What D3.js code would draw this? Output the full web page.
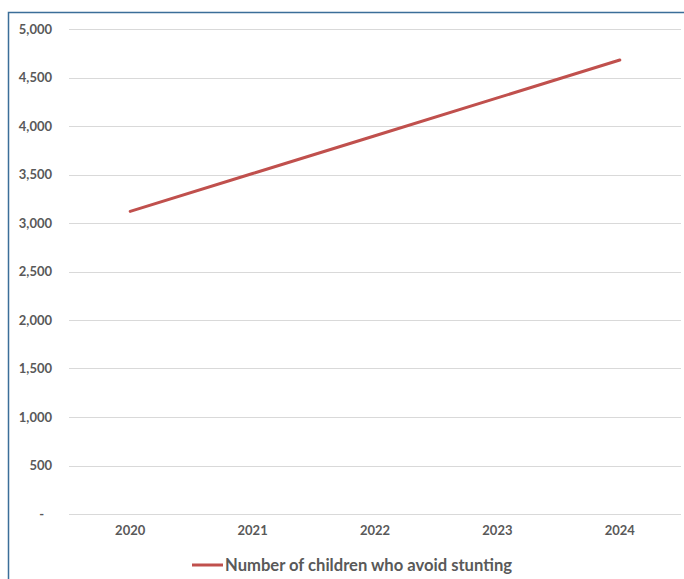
<!DOCTYPE html>
<html><head><meta charset="utf-8">
<script src="https://cdn.jsdelivr.net/npm/d3@7"></script>
<style>body{margin:0;background:#fff;} svg{display:block;}</style>
</head><body>
<script>
const years = ["2020","2021","2022","2023","2024"];
const children = [3120, 3510, 3900, 4290, 4680];
const yTicks = [0,500,1000,1500,2000,2500,3000,3500,4000,4500,5000];
const seriesName = "Number of children who avoid stunting";

const W=684,H=579;
const svg=d3.select("body").append("svg").attr("width",W).attr("height",H);
svg.append("rect").attr("width",W).attr("height",H).attr("fill","#fff");
// frame
svg.append("path").attr("d",`M8.5,${H+2} V12.5 H${W+2}`).attr("fill","none").attr("stroke","#3B6E99").attr("stroke-width",1.5);

const pL=69,pR=681,pT=29,pB=514;
const x=d3.scaleBand().domain(years).range([pL,pR]);
const y=d3.scaleLinear().domain([0,5000]).range([pB,pT]);
const font="Lato, 'Open Sans', sans-serif";

svg.append("g").selectAll("line").data(yTicks).join("line")
 .attr("x1",pL).attr("x2",pR).attr("y1",d=>Math.round(y(d))+0.5).attr("y2",d=>Math.round(y(d))+0.5)
 .attr("stroke","#d9d9d9").attr("stroke-width",1);

const yAxis=d3.axisLeft(y).tickValues(yTicks).tickSize(0).tickPadding(0)
 .tickFormat(d=>d===0?"-":d3.format(",")(d));
const gy=svg.append("g").attr("transform","translate(52,0)").call(yAxis);
gy.select(".domain").remove();
gy.selectAll("text").attr("font-family",font).attr("font-size",13).attr("font-weight","bold").attr("fill","#595959").attr("dx",d=>d===0?-8:0);

const xAxis=d3.axisBottom(x).tickSize(0).tickPadding(0);
const gx=svg.append("g").attr("transform","translate(0,526)").call(xAxis);
gx.select(".domain").remove();
gx.selectAll("text").attr("font-family",font).attr("font-size",13).attr("font-weight","bold").attr("fill","#595959");

const line=d3.line().x((d,i)=>x(years[i])+x.bandwidth()/2).y(d=>y(d));
svg.append("path").datum(children).attr("d",line).attr("fill","none")
 .attr("stroke","#C0504D").attr("stroke-width",3).attr("stroke-linecap","round");

// legend
svg.append("line").attr("x1",192).attr("x2",223).attr("y1",565).attr("y2",565).attr("stroke","#C0504D").attr("stroke-width",3);
svg.append("text").attr("x",225).attr("y",571).text(seriesName)
 .attr("font-family",font).attr("font-size",16.6).attr("font-weight","bold").attr("fill","#595959");
</script>
</body></html>
